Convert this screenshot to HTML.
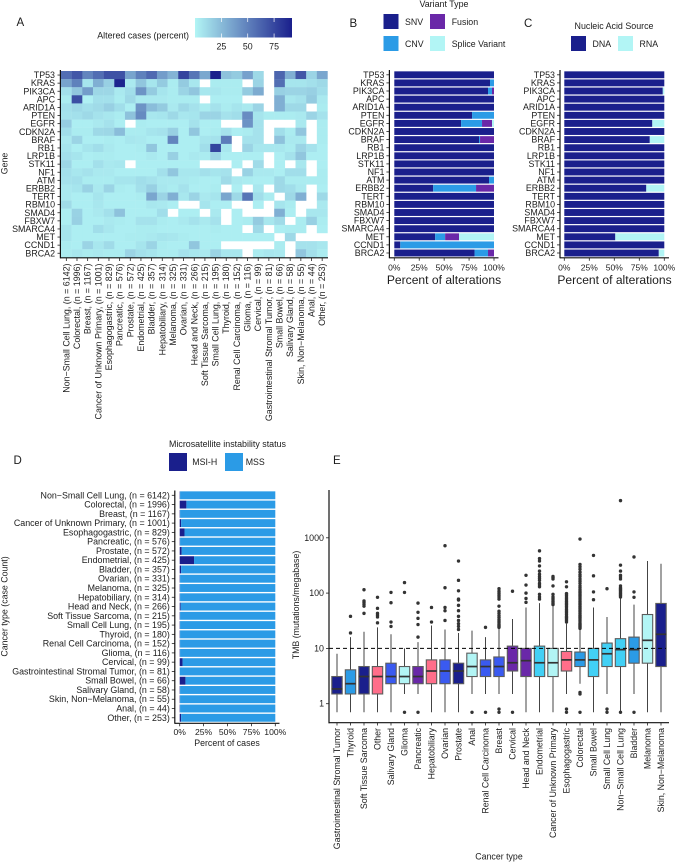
<!DOCTYPE html>
<html lang="en">
<head>
<meta charset="utf-8">
<title>Cancer genomics summary figure</title>
<style>
html,body{margin:0;padding:0;background:#fff;width:675px;height:862px;overflow:hidden}
svg{display:block;font-family:"Liberation Sans",Arial,sans-serif;fill:#1c1c1c;filter:blur(0.3px)}
text{dominant-baseline:central}
</style>
</head>
<body>
<svg id="fig" xmlns="http://www.w3.org/2000/svg" width="675" height="862" viewBox="0 0 675 862">
  <defs>
    <linearGradient id="heatGrad" x1="0" x2="1" y1="0" y2="0">
      <stop offset="0" stop-color="#B2F5F5"/>
      <stop offset="1" stop-color="#1A1F8C"/>
    </linearGradient>
  </defs>

  <g id="panelA">
    <text x="16.5" y="23" font-size="11.5">A</text>
    <text x="189" y="35.5" font-size="8.9" text-anchor="end">Altered cases (percent)</text>
    <rect x="195" y="18" width="97" height="19.5" fill="url(#heatGrad)"/>
    <text transform="translate(4.5,163.5) rotate(-90)" font-size="8.8" text-anchor="middle">Gene</text>
  </g>

  <g id="panelB">
    <text x="349.5" y="24" font-size="11.5">B</text>
    <text x="444" y="4" font-size="8.9" text-anchor="middle">Variant Type</text>
    <rect x="383.5" y="14" width="15" height="15" fill="#1A1F8C"/>
    <text x="405" y="22" font-size="8.8">SNV</text>
    <rect x="430" y="14" width="15" height="15" fill="#6A28A8"/>
    <text x="451.7" y="22" font-size="8.8">Fusion</text>
    <rect x="383.5" y="36" width="15" height="15" fill="#2B9BE6"/>
    <text x="405" y="44" font-size="8.8">CNV</text>
    <rect x="430" y="36" width="15" height="15" fill="#B2F5F5"/>
    <text x="451.7" y="44" font-size="8.8">Splice Variant</text>
    <text x="444" y="280" font-size="12.1" text-anchor="middle">Percent of alterations</text>
  </g>

  <g id="panelC">
    <text x="524" y="24" font-size="11.5">C</text>
    <text x="614" y="26" font-size="8.9" text-anchor="middle">Nucleic Acid Source</text>
    <rect x="571" y="36" width="15" height="15" fill="#1A1F8C"/>
    <text x="592.5" y="44" font-size="8.8">DNA</text>
    <rect x="618" y="36" width="15" height="15" fill="#B2F5F5"/>
    <text x="639.5" y="44" font-size="8.8">RNA</text>
    <text x="614.5" y="280" font-size="12.1" text-anchor="middle">Percent of alterations</text>
  </g>

  <g id="panelD">
    <text x="13.5" y="461" font-size="11.5">D</text>
    <text x="227.5" y="444" font-size="8.9" text-anchor="middle">Microsatellite instability status</text>
    <rect x="169" y="453" width="18" height="18" fill="#1A1F8C"/>
    <text x="192.3" y="462" font-size="8.8">MSI-H</text>
    <rect x="225" y="453" width="18" height="18" fill="#2B9BE6"/>
    <text x="245.7" y="462" font-size="8.8">MSS</text>
    <text transform="translate(4.5,606.5) rotate(-90)" font-size="8.8" text-anchor="middle">Cancer type (case Count)</text>
    <text x="227" y="743" font-size="8.8" text-anchor="middle">Percent of cases</text>
  </g>

  <g id="panelE">
    <text x="333" y="461" font-size="11.5">E</text>
    <text transform="translate(296,605) rotate(-90)" font-size="8.8" text-anchor="middle">TMB (mutations/megabase)</text>
    <text x="499" y="856.5" font-size="8.8" text-anchor="middle">Cancer type</text>
  </g>
</svg>

<script>
// ---------- shared data ----------
const genes = ["TP53","KRAS","PIK3CA","APC","ARID1A","PTEN","EGFR","CDKN2A","BRAF","RB1","LRP1B","STK11","NF1","ATM","ERBB2","TERT","RBM10","SMAD4","FBXW7","SMARCA4","MET","CCND1","BRCA2"];
const heatCancers = ["Non\u2212Small Cell Lung, (n = 6142)","Colorectal, (n = 1996)","Breast, (n = 1167)","Cancer of Unknown Primary, (n = 1001)","Esophagogastric, (n = 829)","Pancreatic, (n = 576)","Prostate, (n = 572)","Endometrial, (n = 425)","Bladder, (n = 357)","Hepatobiliary, (n = 314)","Melanoma, (n = 325)","Ovarian, (n = 331)","Head and Neck, (n = 266)","Soft Tissue Sarcoma, (n = 215)","Small Cell Lung, (n = 195)","Thyroid, (n = 180)","Renal Cell Carcinoma, (n = 152)","Glioma, (n = 116)","Cervical, (n = 99)","Gastrointestinal Stromal Tumor, (n = 81)","Small Bowel, (n = 66)","Salivary Gland, (n = 58)","Skin, Non\u2212Melanoma, (n = 55)","Anal, (n = 44)","Other, (n = 253)"];
const n = null;
const heatTP53    = [58,68,48,58,70,70,35,50,60,38,28,76,55,33,92,22,18,36,12,n,62,30,68,14,34];
const heatKRAS    = [35,50,7,30,16,90,5,20,7,18,4,18,6,n,4,4,4,n,14,n,58,7,7,9,12];
const heatPIK3CA  = [9,20,38,13,13,5,10,42,18,7,4,14,20,6,6,4,4,18,32,n,16,14,14,16,10];
const heatAPC     = [4,72,2,9,9,4,12,5,5,5,4,4,4,n,3,3,3,n,n,n,30,6,8,18,5];
const heatARID1A  = [9,12,9,11,16,10,3,42,24,18,5,12,8,4,8,4,7,5,14,n,30,12,12,n,4];
const heatPTEN    = [8,9,12,8,6,4,22,46,6,7,12,6,7,14,14,8,10,45,7,4,4,4,5,14,8];
const heatEGFR    = [17,3,3,5,8,3,n,4,3,3,3,3,8,3,3,n,n,42,8,n,n,n,5,n,4];
const heatCDKN2A  = [10,4,4,12,13,24,4,4,7,8,16,3,20,3,4,8,3,4,8,n,10,4,20,n,4];
const heatBRAF    = [5,14,3,3,4,3,6,5,3,3,48,3,3,7,8,52,n,8,8,n,22,5,5,n,4];
const heatRB1     = [7,3,7,10,5,3,3,4,20,3,3,3,3,10,76,6,n,14,6,6,6,4,14,8,3];
const heatLRP1B   = [9,7,3,4,4,3,3,3,5,3,16,3,5,4,13,3,3,3,3,n,3,8,20,3,3];
const heatSTK11   = [13,3,3,9,5,6,n,3,3,3,3,3,3,n,n,n,3,n,11,n,3,n,6,n,3];
const heatNF1     = [9,6,8,5,5,3,3,3,3,9,20,6,6,9,7,8,n,15,5,5,3,10,10,n,4];
const heatATM     = [8,9,4,4,4,7,7,10,8,5,5,5,4,3,3,11,5,4,3,3,12,4,4,4,4];
const heatERBB2   = [5,7,15,5,14,4,3,9,16,6,4,8,3,3,4,n,3,n,6,n,12,10,5,n,3];
const heatTERT    = [5,3,3,7,3,3,3,4,34,14,30,6,14,5,7,34,12,55,10,4,n,12,30,n,12];
const heatRBM10   = [11,3,3,6,3,3,3,3,6,5,3,n,n,7,3,3,n,n,3,n,7,4,n,n,5];
const heatSMAD4   = [3,15,3,5,9,22,3,3,3,10,n,3,3,n,5,n,3,n,n,n,30,3,n,6,6];
const heatFBXW7   = [3,16,3,3,5,4,3,8,8,4,3,5,8,5,8,n,3,4,18,6,11,n,4,16,4];
const heatSMARCA4 = [7,3,3,10,6,3,3,4,4,3,3,3,3,3,4,3,3,n,12,n,3,4,4,n,3];
const heatMET     = [7,3,3,3,3,3,4,4,5,7,6,4,3,3,3,3,3,3,3,3,n,12,n,n,n];
const heatCCND1   = [4,3,14,6,11,3,3,7,14,4,3,3,20,3,3,n,n,n,n,n,4,n,8,8,6];
const heatBRCA2   = [4,6,4,5,4,4,14,9,7,4,4,8,6,5,14,6,6,n,4,6,5,n,20,9,4];
const heatValues = [heatTP53,heatKRAS,heatPIK3CA,heatAPC,heatARID1A,heatPTEN,heatEGFR,heatCDKN2A,heatBRAF,heatRB1,heatLRP1B,heatSTK11,heatNF1,heatATM,heatERBB2,heatTERT,heatRBM10,heatSMAD4,heatFBXW7,heatSMARCA4,heatMET,heatCCND1,heatBRCA2];
const heatLegendTicks = [25,50,75];

const variantSNV    = [100,96,94,100,100,78,67,100,85,100,100,100,100,95,39,100,100,100,100,100,41,6,80.5];
const variantCNV    = [0,4,4,0,0,22,21,0,1,0,0,0,0,5,43,0,0,0,0,0,10,94,13.5];
const variantFusion = [0,0,2,0,0,0,10,0,14,0,0,0,0,0,18,0,0,0,0,0,14,0,6];
const variantSplice = [0,0,0,0,0,0,2,0,0,0,0,0,0,0,0,0,0,0,0,0,35,0,0];
const sourceDNA = [100,100,98.5,100,100,100,88,100,85.5,100,100,100,100,100,82,100,100,100,100,100,51,100,94.5];
const sourceRNA = [0,0,1.5,0,0,0,12,0,14.5,0,0,0,0,0,18,0,0,0,0,0,49,0,5.5];
const percentTicks = [0,25,50,75,100];

const msiCancers = ["Non\u2212Small Cell Lung, (n = 6142)","Colorectal, (n = 1996)","Breast, (n = 1167)","Cancer of Unknown Primary, (n = 1001)","Esophagogastric, (n = 829)","Pancreatic, (n = 576)","Prostate, (n = 572)","Endometrial, (n = 425)","Bladder, (n = 357)","Ovarian, (n = 331)","Melanoma, (n = 325)","Hepatobiliary, (n = 314)","Head and Neck, (n = 266)","Soft Tissue Sarcoma, (n = 215)","Small Cell Lung, (n = 195)","Thyroid, (n = 180)","Renal Cell Carcinoma, (n = 152)","Glioma, (n = 116)","Cervical, (n = 99)","Gastrointestinal Stromal Tumor, (n = 81)","Small Bowel, (n = 66)","Salivary Gland, (n = 58)","Skin, Non\u2212Melanoma, (n = 55)","Anal, (n = 44)","Other, (n = 253)"];
const msiHigh = [0.4,7,0.4,1.5,5,0.4,2,15,1.5,0.4,0.4,0.4,1,0.4,0.4,0.4,0.4,0.4,3,0,6,0.4,0.4,0.4,1.5];

const tmbCancers = ["Gastrointestinal Stromal Tumor","Thyroid","Soft Tissue Sarcoma","Other","Salivary Gland","Glioma","Pancreatic","Hepatobiliary","Ovarian","Prostate","Anal","Renal Cell Carcinoma","Breast","Cervical","Head and Neck","Endometrial","Cancer of Unknown Primary","Esophagogastric","Colorectal","Small Bowel","Small Cell Lung","Non\u2212Small Cell Lung","Bladder","Melanoma","Skin, Non\u2212Melanoma"];
const tmbQ1     = [1.5,1.5,1.5,1.5,2.3,2.3,2.3,2.3,2.3,2.3,3.1,3.1,3.1,3.9,3.1,3.1,3.1,3.9,4.7,3.1,4.7,4.7,5.4,5.4,4.7];
const tmbMedian = [1.85,2.3,3.1,3.1,3.1,3.1,3.1,3.9,3.9,3.9,4.7,4.7,4.7,5.5,6,5.5,5.5,6.2,6.2,6.2,8,9.5,9.5,14,18];
const tmbQ3     = [3.1,4.1,4.7,4.7,5.4,4.7,4.7,6.2,6.2,5.4,8.2,6.2,7,11,10,11,10,8.8,8.6,10,12.5,15,16,41,65];
const tmbLow    = [0.7,0.7,0.7,0.7,0.7,1.5,1.5,0.7,0.7,0.7,1.5,1.5,1.5,1.5,0.7,0.7,0.7,1.5,2.3,0.7,1.5,0.7,1.5,0.7,0.7];
const tmbHigh   = [8,16,20,24,18,10,13,26,22,19,21,16,23,34,55,66,58,28,22,55,37,80,62,380,340];
const tmbFill   = ["navy","blue","navy","pink","royal","pale","purple","pink","royal","navy","pale","royal","royal","purple","purple","sky","pale","pink","blue","sky","sky","sky","blue","pale","navy"];
const tmbOutliers = [
  [],
  [19,38],
  [43,58,63,68,72,115],
  [29,37,40,43,53,84],
  [25,30,67,103],
  [0.7,103,155],
  [0.7,16,27,35,45,66],
  [30,55],
  [32,48,55,125,720],
  [22,25,28,32,38,48,60,75,78,110,170,380],
  [0.7],
  [0.7,24],
  [0.7,0.8,24,25,26,27,29,31,33,36,39,43,47,58,78,85,92,100,108,120],
  [0.7,108],
  [68,80,100,140,210],
  [78,85,95,130,140,150,170,185,200,220,250,310,380,420,580],
  [62,66,70,75,80,85,95,135,180,190,200],
  [0.7,0.8,30,32,34,36,38,41,44,47,50,54,58,62,66,70,75,80,85,92,98,130,160],
  [0.7,1.5,1.6,23,24,25,26,27,28,30,32,34,36,38,40,43,46,49,52,55,58,62,66,70,75,80,85,90,96,102,108,115,125,135,150,165,180,200,215,240,270,300,330,950],
  [76,105,205,480],
  [0.7,0.8,120],
  [0.7,85,90,95,100,105,110,115,120,125,135,180,195,210,250,320,4700],
  [0.7,84,105,450],
  [],
  []
];
const tmbTicks = [1,10,100,1000];
const tmbThreshold = [10];

// ---------- helpers ----------
const SVGNS = "http://www.w3.org/2000/svg";
function mk(tag, attrs, parent, txt){
  const el = document.createElementNS(SVGNS, tag);
  for (const k in attrs) el.setAttribute(k, attrs[k]);
  if (txt !== undefined) el.textContent = txt;
  parent.appendChild(el);
  return el;
}
function lerp(a,b,t){ return Math.round(a+(b-a)*t); }
function heatColor(v){
  const t = Math.max(0,Math.min(1,v/92));
  return "rgb("+lerp(0xB2,0x1A,t)+","+lerp(0xF5,0x1F,t)+","+lerp(0xF5,0x8C,t)+")";
}
const AXIS = "#111";
const palette = {navy:"#1A1F8C",blue:"#2B9BE6",pink:"#FF6E8A",royal:"#3A5AF0",pale:"#B2F5F5",purple:"#6A28A8",sky:"#42D0F5"};

function axisLine(parent,x1,y1,x2,y2,name,w){
  const el = mk("line",{x1:x1,y1:y1,x2:x2,y2:y2,stroke:AXIS,"stroke-width":w||1.2},parent);
  
  
  return el;
}
function tick(parent,x1,y1,x2,y2,name){
  const el = mk("line",{x1:x1,y1:y1,x2:x2,y2:y2,stroke:"#222","stroke-width":0.8},parent);
  
  
}
function label(parent,x,y,s,size,anchor,name,rot){
  const a = {"font-size":size,"text-anchor":anchor};
  if (rot) a.transform = "translate("+x+","+y+") rotate(-90)";
  else { a.x = x; a.y = y; }
  const el = mk("text",a,parent,s);
  
  
}

// ---------- panel A: heatmap ----------
(function(){
  const g = document.getElementById("panelA");
  const x0 = 61, cw = 10.66, y0 = 71, ch = 8.1;
  const xPos = i => x0 + i*cw;
  const yPos = r => y0 + r*ch;
  heatValues.forEach((row,r)=>{
    row.forEach((v,c)=>{
      if (v === null) return;
      const cell = mk("rect",{x:xPos(c),y:yPos(r),width:cw+0.2,height:ch+0.2,fill:heatColor(v)},g);
      
      
    });
  });
  axisLine(g,60.4,70,60.4,258.2,"heatmap-y-axis");
  axisLine(g,60,257.8,328,257.8,"heatmap-x-axis");
  genes.forEach((s,r)=>{
    const y = yPos(r)+ch/2;
    tick(g,57.5,y,60,y,"heatmap-y-tick");
    label(g,55,y,s,8.9,"end","heatmap-gene-label");
  });
  heatCancers.forEach((s,c)=>{
    const x = xPos(c)+cw/2;
    tick(g,x,258,x,261,"heatmap-x-tick");
    label(g,x,263.5,s,8.9,"end","heatmap-cancer-label",true);
  });
  const barX = v => 195 + v*(97/92);
  heatLegendTicks.forEach(v=>{
    const a = mk("line",{x1:barX(v),x2:barX(v),y1:18,y2:22,stroke:"#fff","stroke-width":0.7},g);
    
    
    const b = mk("line",{x1:barX(v),x2:barX(v),y1:33.5,y2:37.5,stroke:"#fff","stroke-width":0.7},g);
    
    
    label(g,barX(v),46.5,String(v),8.8,"middle","colorbar-tick-label");
  });
})();

// ---------- stacked percentage bars ----------
function stackedPanel(g,opts){
  const xS = v => opts.barL + v*(opts.barR-opts.barL)/100;
  const yS = r => opts.yFirst + r*opts.step;
  opts.categories.forEach((s,r)=>{
    let acc = 0;
    opts.series.forEach(sr=>{
      const v = sr.values[r];
      if (v > 0){
        const bar = mk("rect",{x:xS(acc),y:yS(r)-opts.barH/2,width:xS(acc+v)-xS(acc),height:opts.barH,fill:sr.color},g);
        
        
      }
      acc += v;
    });
    tick(g,opts.axisX-3,yS(r),opts.axisX,yS(r),"y-tick");
    label(g,opts.axisX-5,yS(r),s,opts.catSize,"end","category-label");
  });
  axisLine(g,opts.axisX,opts.top,opts.axisX,opts.axisY+0.5,"y-axis");
  axisLine(g,opts.axisX,opts.axisY,opts.axisEnd,opts.axisY,"x-axis");
  percentTicks.forEach(v=>{
    tick(g,xS(v),opts.axisY,xS(v),opts.axisY+3,"x-tick");
    label(g,xS(v),opts.axisY+opts.tickLabelDy,v+"%",opts.tickSize,"middle","x-tick-label");
  });
}
stackedPanel(document.getElementById("panelB"),{
  categories:genes,
  series:[{values:variantSNV,color:palette.navy},{values:variantCNV,color:palette.blue},{values:variantFusion,color:palette.purple},{values:variantSplice,color:palette.pale}],
  barL:394.3,barR:494,yFirst:74.8,step:8.1,barH:6.9,axisX:389.4,axisY:257.8,axisEnd:498.5,top:70,
  catSize:8.9,tickSize:8.5,tickLabelDy:9.5
});
stackedPanel(document.getElementById("panelC"),{
  categories:genes,
  series:[{values:sourceDNA,color:palette.navy},{values:sourceRNA,color:palette.pale}],
  barL:564.3,barR:664.3,yFirst:74.8,step:8.1,barH:6.9,axisX:560,axisY:257.8,axisEnd:669,top:70,
  catSize:8.9,tickSize:8.5,tickLabelDy:9.5
});
const msiStable = msiHigh.map(v => 100 - v);
stackedPanel(document.getElementById("panelD"),{
  categories:msiCancers,
  series:[{values:msiHigh,color:palette.navy},{values:msiStable,color:palette.blue}],
  barL:179.7,barR:275.3,yFirst:495.3,step:9.27,barH:7.9,axisX:174.8,axisY:723.3,axisEnd:279.5,top:490.5,
  catSize:8.9,tickSize:8.6,tickLabelDy:8.5
});

// ---------- panel E: TMB boxplots ----------
(function(){
  const g = document.getElementById("panelE");
  const xS = i => 337 + i*13.5;
  const yS = v => 703.7 - 55.3*Math.log10(v);
  const bw = 10.4;
  tmbCancers.forEach((s,i)=>{
    const x = xS(i);
    const w = mk("line",{x1:x,x2:x,y1:yS(tmbHigh[i]),y2:yS(tmbQ3[i]),stroke:"#444","stroke-width":1},g);
    
    
    const w2 = mk("line",{x1:x,x2:x,y1:yS(tmbQ1[i]),y2:yS(tmbLow[i]),stroke:"#444","stroke-width":1},g);
    
    
    const box = mk("rect",{x:x-bw/2,y:yS(tmbQ3[i]),width:bw,height:yS(tmbQ1[i])-yS(tmbQ3[i]),fill:palette[tmbFill[i]],stroke:"#5c5c5c","stroke-width":1.1},g);
    
    
    const med = mk("line",{x1:x-bw/2,x2:x+bw/2,y1:yS(tmbMedian[i]),y2:yS(tmbMedian[i]),stroke:"#333","stroke-width":1.7},g);
    
    
    tmbOutliers[i].forEach(v=>{
      const dot = mk("circle",{cx:x,cy:yS(v),r:1.7,fill:"#333"},g);
      
      
    });
    tick(g,x,722.7,x,725.5,"x-tick");
    label(g,x,728,s,8.8,"end","cancer-type-label",true);
  });
  tmbThreshold.forEach(v=>{
    const ref = mk("line",{x1:329,x2:666,y1:yS(v),y2:yS(v),stroke:"#000","stroke-width":1,"stroke-dasharray":"4 3"},g);
    
    
  });
  axisLine(g,329,490,329,723.2,"tmb-y-axis");
  axisLine(g,328.5,722.7,669,722.7,"tmb-x-axis");
  tmbTicks.forEach(v=>{
    tick(g,326,yS(v),329,yS(v),"y-tick");
    label(g,324,yS(v),String(v),8.9,"end","y-tick-label");
  });
})();
</script>
</body>
</html>
